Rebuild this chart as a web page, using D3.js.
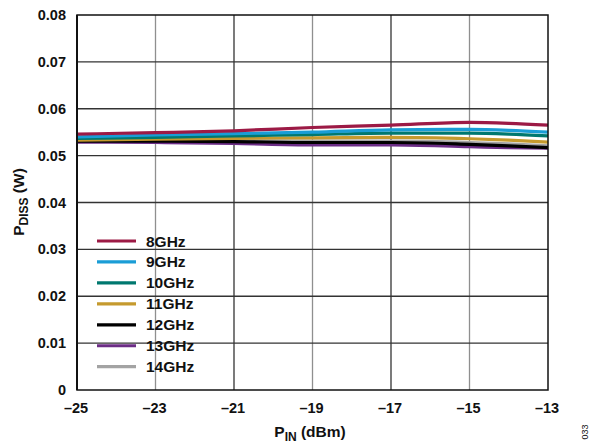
<!DOCTYPE html>
<html><head><meta charset="utf-8">
<script src="https://cdn.jsdelivr.net/npm/d3@7"></script>
<style>body{margin:0;background:#fff}svg{display:block}text{font-family:"Liberation Sans",Arial,sans-serif;font-weight:bold;fill:#111}</style>
</head><body><svg id="c" width="590" height="446"></svg>
<script>
const pin = [-25, -23, -21, -19, -17, -15, -14, -13];
const seriesNames = ["8GHz","9GHz","10GHz","11GHz","12GHz","13GHz","14GHz"];
const colors = ["#9c1a45","#1a9dd6","#00786f","#c59a2e","#000000","#6c2d86","#a3a3a3"];
const v8  = [0.0546,0.0549,0.0553,0.0560,0.0565,0.0571,0.0569,0.0565];
const v9  = [0.0540,0.0544,0.0547,0.0550,0.0555,0.0556,0.0554,0.0550];
const v10 = [0.0537,0.0539,0.0542,0.0545,0.0548,0.0548,0.0546,0.0542];
const v11 = [0.0533,0.0535,0.0537,0.0538,0.0539,0.0536,0.0533,0.0529];
const v12 = [0.0531,0.0531,0.0530,0.0528,0.0528,0.0524,0.0521,0.0517];
const v13 = [0.0529,0.0528,0.0526,0.0523,0.0523,0.0519,0.0517,0.0516];
const v14 = [0.0531,0.0532,0.0532,0.0531,0.0531,0.0528,0.0525,0.0521];
const values = [v8,v9,v10,v11,v12,v13,v14];
const xTicks = [-25,-23,-21,-19,-17,-15,-13];
const yTicks = [0,0.01,0.02,0.03,0.04,0.05,0.06,0.07,0.08];

const svg = d3.select("#c");
const L=77, R=548, T=15, B=390;
const x = d3.scaleLinear().domain([-25,-13]).range([L,R]);
const y = d3.scaleLinear().domain([0,0.08]).range([B,T]);

// grid
const g = svg.append("g");
g.selectAll(".vg").data(xTicks.slice(1,-1)).join("line")
  .attr("x1",d=>x(d)).attr("x2",d=>x(d)).attr("y1",T).attr("y2",B)
  .attr("stroke",(d,i)=> i%2===0 ? "#8f8f8f" : "#333").attr("stroke-width",1.3);
g.selectAll(".hg").data(yTicks.slice(1,-1)).join("line")
  .attr("x1",L).attr("x2",R).attr("y1",d=>y(d)).attr("y2",d=>y(d))
  .attr("stroke","#333").attr("stroke-width",1.3);

// lines, 8GHz drawn last so it sits on top
const line = d3.line().x((d,i)=>x(pin[i])).y(d=>y(d)).curve(d3.curveMonotoneX);
const order = [6,5,4,3,2,1,0];
order.forEach(k=>{
  svg.append("path").attr("d",line(values[k])).attr("fill","none")
    .attr("stroke",colors[k]).attr("stroke-width",3.2);
});

// frame
svg.append("rect").attr("x",L).attr("y",T).attr("width",R-L).attr("height",B-T)
  .attr("fill","none").attr("stroke","#111").attr("stroke-width",1.5);
svg.append("line").attr("x1",L).attr("x2",L).attr("y1",T).attr("y2",B).attr("stroke","#111").attr("stroke-width",2);

// y tick labels
svg.selectAll(".yl").data(yTicks).join("text")
  .attr("x",66).attr("y",d=>y(d)+5).attr("text-anchor","end").attr("font-size","14.5px")
  .text(d=> d===0 ? "0" : d3.format(".2f")(d));
// x tick labels
svg.selectAll(".xl").data(xTicks).join("text")
  .attr("x",d=>x(d)-1).attr("y",413).attr("text-anchor","middle").attr("font-size","14.5px")
  .text(d=> "\u2013"+Math.abs(d));

// axis titles
const xt = svg.append("text").attr("x",310).attr("y",437).attr("text-anchor","middle").attr("font-size","15.5px");
xt.append("tspan").text("P");
xt.append("tspan").attr("font-size","12px").attr("dy",3.5).text("IN");
xt.append("tspan").attr("dy",-3.5).text(" (dBm)");

const yt = svg.append("text").attr("transform","translate(24,202) rotate(-90)").attr("text-anchor","middle").attr("font-size","15.5px");
yt.append("tspan").text("P");
yt.append("tspan").attr("font-size","12px").attr("dy",4).text("DISS");
yt.append("tspan").attr("dy",-4).text(" (W)");

svg.append("text").attr("transform","translate(588,432) rotate(-90)").attr("text-anchor","middle")
  .attr("font-size","9px").style("font-weight","normal").text("033");

// legend
const lg = svg.append("g");
seriesNames.forEach((n,i)=>{
  const yy = 241 + i*20.95;
  lg.append("line").attr("x1",97).attr("x2",136).attr("y1",yy).attr("y2",yy)
    .attr("stroke",colors[i]).attr("stroke-width",3.2);
  lg.append("text").attr("x",146).attr("y",yy+5.5).attr("font-size","15.5px").text(n);
});
</script></body></html>
